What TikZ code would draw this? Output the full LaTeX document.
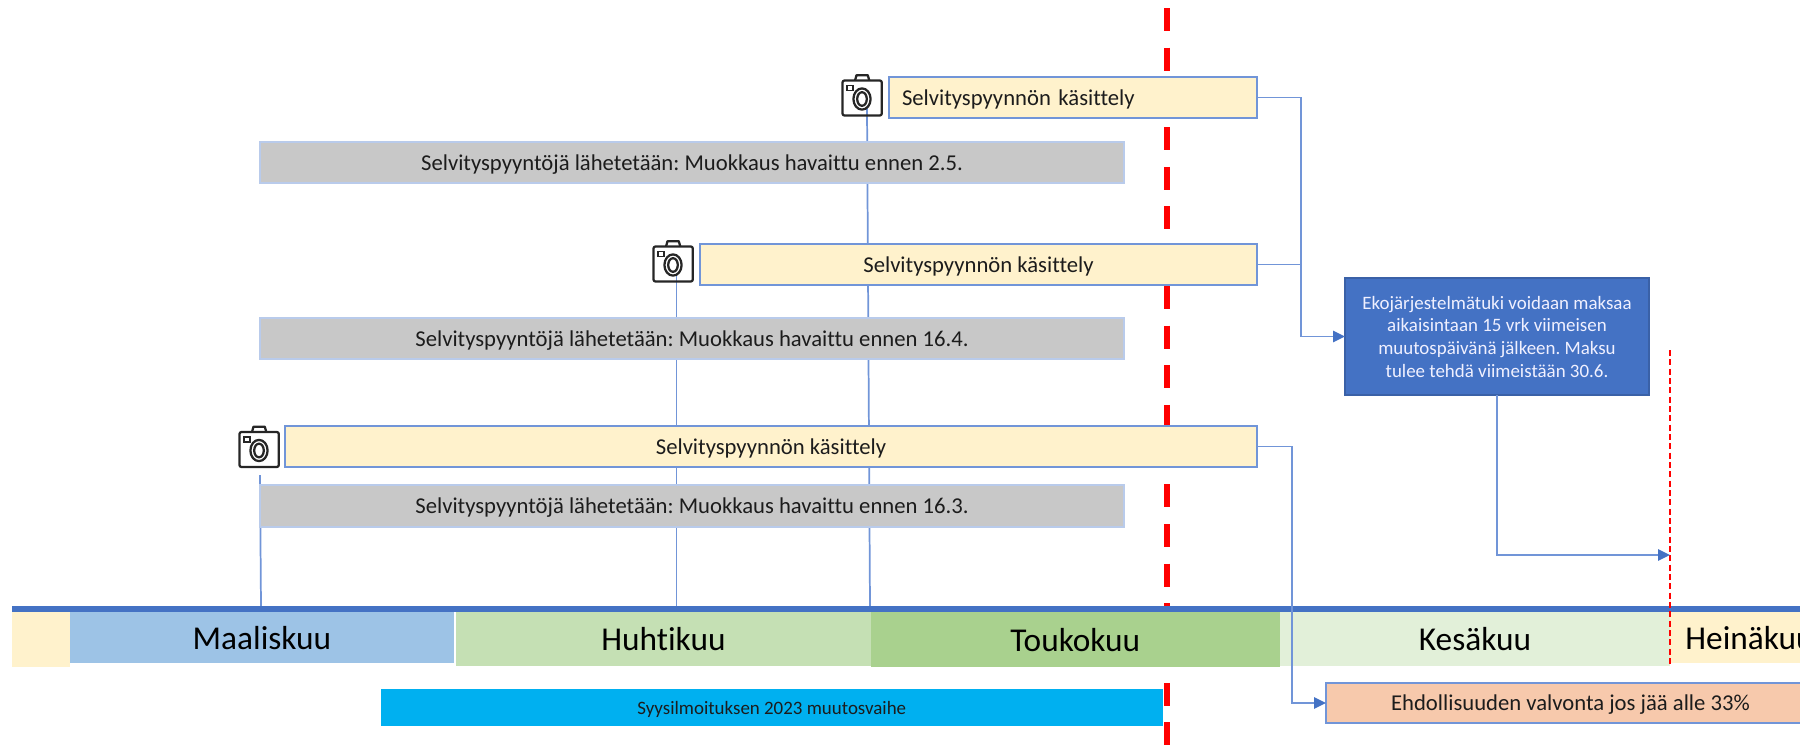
\documentclass[tikz,border=0pt]{standalone}
\usepackage{fontspec}
\setmainfont{Carlito}[Ligatures=NoCommon]
\frenchspacing
\usetikzlibrary{arrows.meta}
\definecolor{linkblue}{HTML}{7195D8}
\definecolor{headblue}{HTML}{4472C4}
\definecolor{cream}{HTML}{FFF2CC}
\definecolor{greybar}{HTML}{C8C8C8}
\definecolor{greyedge}{HTML}{B9CBEB}
\definecolor{inkdark}{HTML}{1C1C1C}
\tikzset{
  basebox/.style={rectangle,inner sep=0pt,outer sep=0pt,text=inkdark,text depth=0pt,font=\fontsize{17pt}{20pt}\selectfont},
  taskbox/.style={basebox,draw=linkblue,line width=1.6pt,fill=cream},
  greybox/.style={basebox,draw=greyedge,line width=1.2pt,fill=greybar},
  infobox/.style={basebox,text depth=,draw=headblue!85!black,line width=0.9pt,fill=headblue,text=white!94!blue,align=center,font=\fontsize{14.2pt}{17pt}\selectfont},
  phasebox/.style={basebox,fill={rgb,255:red,0;green,176;blue,240},font=\fontsize{14.2pt}{17pt}\selectfont},
  orangebox/.style={basebox,draw=linkblue,line width=1.4pt,fill={rgb,255:red,247;green,201;blue,172},font=\fontsize{17pt}{20pt}\selectfont},
  monthbox/.style={basebox,font=\fontsize{25pt}{30pt}\selectfont,text=black},
  link/.style={draw=linkblue,line width=1.3pt},
  arrowlink/.style={link,-{Triangle[length=9pt,width=8.5pt,color=headblue]}},
  bigdash/.style={red,line width=4.2pt,dash pattern=on 17.25pt off 12.52pt},
  thindash/.style={red,line width=0.9pt,dash pattern=on 4.6pt off 2.4pt},
  camline/.style={draw=black!85,line width=1.7pt,line join=round},
  camera/.pic={
    \draw[camline,rounded corners=1.5pt] (0,6) rectangle (39.3,41);
    \draw[camline] (12.5,6) -- (14,0.7) -- (25.3,0.7) -- (26.8,6);
    \draw[draw=black!85,line width=1.2pt] (4.6,11) rectangle (10.4,16);
    \draw[camline] (19.5,24.5) ellipse [x radius=8.6,y radius=10.6];
    \draw[camline] (19.5,24.5) ellipse [x radius=4.8,y radius=6.8];
  }
}
\newcommand{\bx}[7]{\node[#2,minimum width={(#5-#3)*0.75pt},minimum height={(#6-#4)*0.75pt}] (#1) at ({(#3+#5)/2},{(#4+#6)/2}) {#7};}
\begin{document}
\begin{tikzpicture}[x=0.75pt,y=-0.75pt]
\useasboundingbox (0,0) rectangle (1800,744);
% free ends
\coordinate (topA) at (1167,8);
\coordinate (botA) at (1167,748);
\coordinate (topB) at (1670,350);
\coordinate (botB) at (1670,666);
\coordinate (footA) at (867,108);
\coordinate (axisA) at (870,607);
\coordinate (footB) at (676.5,275);
\coordinate (axisB) at (676.5,607);
\coordinate (footC) at (260,475);
\coordinate (axisC) at (261,607);
\coordinate (busA) at (1301,336.5);
\coordinate (busB) at (1292,703);
\coordinate (deadline) at (1670,555);
\coordinate (axisL) at (12,609);
\coordinate (axisR) at (1800,609);
% red dashed line
\draw[bigdash] (topA) -- (botA);
% vertical links
\draw[link] (footA) -- (axisA);
\draw[link] (footB) -- (axisB);
\draw[link] (footC) -- (axisC);
% months
\bx{m0}{monthbox,fill=cream}{12}{612}{70.4}{667}{}
\bx{m3}{monthbox,fill={rgb,255:red,157;green,195;blue,230}}{70.4}{612}{453.5}{663}{Maaliskuu}
\bx{m4}{monthbox,fill={rgb,255:red,197;green,224;blue,180}}{456}{612}{871}{666}{Huhtikuu}
\bx{m5}{monthbox,fill={rgb,255:red,169;green,209;blue,142}}{870.5}{612}{1280}{667}{Toukokuu}
\bx{m6}{monthbox,fill={rgb,255:red,226;green,240;blue,217}}{1280}{612}{1670}{666}{Kesäkuu}
\bx{m7}{monthbox,fill=cream}{1670}{612}{1829}{663}{Heinäkuu}
% axis
\draw[draw=headblue,line width=4.5pt] (axisL) -- (axisR);
% thin dashed deadline
\draw[thindash] (topB) -- (botB);
% grey bars
\bx{g1}{greybox}{260}{142}{1124}{183}{Selvityspyyntöjä lähetetään: Muokkaus havaittu ennen 2.5.}
\bx{g2}{greybox}{260}{318}{1124}{359}{Selvityspyyntöjä lähetetään: Muokkaus havaittu ennen 16.4.}
\bx{g3}{greybox}{260}{485}{1124}{527}{Selvityspyyntöjä lähetetään: Muokkaus havaittu ennen 16.3.}
% task bars
\node[taskbox,minimum height={41*0.75pt},text width={342*0.75pt},inner xsep={13*0.75pt},align=left] (b1) at (1073,97.5) {Selvityspyynnön käsittely};
\bx{b2}{taskbox}{700}{244}{1257}{285}{Selvityspyynnön käsittely}
\bx{b3}{taskbox}{285}{426}{1257}{467}{Selvityspyynnön käsittely}
% cameras
\pic at (842.5,74.5) {camera};
\pic at (653.5,240.5) {camera};
\pic at (239.5,426) {camera};
% info and bottom bars
\bx{info}{infobox}{1345}{278}{1649}{395}{Ekojärjestelmätuki voidaan maksaa\\aikaisintaan 15 vrk viimeisen\\muutospäivänä jälkeen. Maksu\\tulee tehdä viimeistään 30.6.}
\bx{phase}{phasebox}{381}{689}{1162.5}{726}{Syysilmoituksen 2023 muutosvaihe}
\bx{cond}{orangebox}{1326}{683}{1815}{723}{Ehdollisuuden valvonta jos jää alle 33\%}
% connectors
\draw[arrowlink] (b1.east) -| (busA) -- (info.west);
\draw[link] (b2.east) -- (b2.east -| busA);
\draw[arrowlink] (b3.east) -| (busB) -- (cond.west);
\draw[arrowlink] (info.south) |- (deadline);
\end{tikzpicture}
\end{document}
